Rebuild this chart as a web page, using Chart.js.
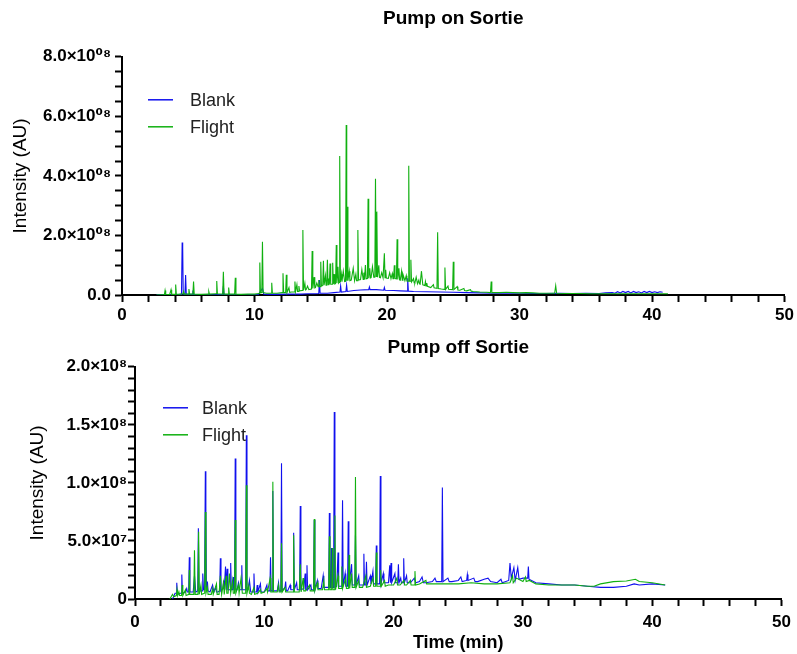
<!DOCTYPE html>
<html>
<head>
<meta charset="utf-8">
<script src="https://cdn.jsdelivr.net/npm/chart.js@4.4.1/dist/chart.umd.min.js"></script>
<style>
  body { margin: 0; background: #fff; }
  canvas { position: absolute; left: 0; }
  #pumpOn { top: 0; }
  #pumpOff { top: 326px; }
</style>
</head>
<body>
<canvas id="pumpOn" width="797" height="326"></canvas>
<canvas id="pumpOff" width="797" height="328"></canvas>
<script>
// time in minutes, intensity in units of 1e6 AU
const xTickValues = [0, 10, 20, 30, 40, 50];
const xTickLabels = ['0', '10', '20', '30', '40', '50'];
const onYTickValues = [0, 200, 400, 600, 800];
const onYTickLabels = ['0.0', '2.0×10⁰⁸', '4.0×10⁰⁸', '6.0×10⁰⁸', '8.0×10⁰⁸'];
const offYTickValues = [0, 50, 100, 150, 200];
const offYTickLabels = ['0', '5.0×10⁷', '1.0×10⁸', '1.5×10⁸', '2.0×10⁸'];
const seriesNames = ['Blank', 'Flight'];
const seriesColors = ['#1010ee', '#10b010'];

const pumpOnBlank = [
  [2.6,0],[3.5,1],[4.0,1],[4.4,2],[4.49,2],[4.54,176],[4.58,160],[4.62,3],[4.75,3],[4.8,67],[4.85,3],
  [5.3,2],[5.35,15],[5.4,2],[6.0,1],[7.0,1],[7.6,2],[7.65,30],[7.7,2],[8.5,1],[9.5,1],[10.3,2],[10.6,22],
  [10.7,3],[11.5,2],[12.5,3],[13.5,3],[14.0,4],[14.5,4],[14.85,5],[14.9,50],[14.95,6],[15.5,6],[16.0,8],
  [16.45,10],[16.5,30],[16.55,10],[16.9,12],[16.95,33],[17.0,12],[17.5,15],[18.0,17],[18.62,18],[18.67,27],
  [18.72,18],[19.2,18],[19.75,16],[19.8,25],[19.85,16],[20.5,15],[21.0,14],[21.51,13],[21.56,56],[21.61,13],
  [22.0,12],[23.0,11],[24.0,10],[25.0,9],[26.0,8],[27.0,7],[28.0,6],[29.0,6],[30.0,6],[31.0,5],[32.0,5],
  [33.0,6],[34.0,5],[35.0,6],[36.0,5],[36.5,7],[37.0,8],[37.2,6],[37.4,11],[37.6,7],[37.8,12],[38.0,8],
  [38.2,12],[38.4,7],[38.6,12],[38.8,8],[39.0,11],[39.2,7],[39.4,12],[39.6,8],[39.8,12],[40.0,8],[40.2,11],
  [40.4,8],[40.6,11],[40.8,9]
];
const pumpOnFlight = [
  [2.6,0],[3.0,1],[3.2,1],[3.25,15],[3.3,1],[3.6,2],[3.7,18],[3.75,2],[4.0,2],[4.05,35],[4.1,3],[4.3,2],
  [4.6,4],[4.65,12],[4.7,3],[5.0,3],[5.05,20],[5.1,3],[5.35,3],[5.4,45],[5.45,3],[6.0,2],[6.5,3],[6.55,12],
  [6.6,3],[7.1,4],[7.15,47],[7.2,4],[7.6,3],[7.65,78],[7.7,3],[8.0,3],[8.05,25],[8.1,3],[8.5,3],[8.55,58],
  [8.6,3],[9.0,2],[9.5,3],[10.0,3],[10.35,5],[10.4,109],[10.45,8],[10.55,8],[10.6,179],[10.65,8],[10.9,6],
  [11.25,6],[11.3,41],[11.35,6],[11.7,6],[12.1,8],[12.15,73],[12.2,8],[12.35,8],[12.4,68],[12.45,8],
  [12.6,25],[12.65,9],[12.8,10],[13.0,10],[13.05,45],[13.1,12],[13.2,35],[13.25,12],[13.3,12],[13.35,30],
  [13.4,14],[13.6,15],[13.65,218],[13.7,16],[13.8,40],[13.85,17],[13.9,18],[14.0,30],[14.1,18],[14.3,20],
  [14.35,148],[14.4,22],[14.5,60],[14.55,24],[14.6,25],[14.7,40],[14.8,28],[14.85,50],[14.9,28],[14.95,28],
  [15.0,112],[15.05,30],[15.15,32],[15.2,115],[15.25,33],[15.35,65],[15.4,33],[15.45,34],[15.5,118],
  [15.55,35],[15.6,55],[15.65,35],[15.7,106],[15.75,36],[15.85,36],[15.9,108],[15.95,37],[16.0,70],
  [16.05,37],[16.12,38],[16.17,168],[16.22,40],[16.3,95],[16.35,40],[16.38,42],[16.43,467],[16.48,44],
  [16.55,70],[16.6,45],[16.7,80],[16.8,45],[16.87,46],[16.92,571],[16.96,48],[17.0,296],[17.05,48],
  [17.15,80],[17.2,48],[17.3,50],[17.45,90],[17.55,48],[17.65,70],[17.7,48],[17.75,48],[17.8,218],
  [17.85,50],[18.0,52],[18.1,85],[18.2,52],[18.25,75],[18.3,52],[18.32,52],[18.37,101],[18.42,54],
  [18.52,55],[18.57,323],[18.62,56],[18.7,90],[18.75,57],[18.8,58],[18.9,95],[19.0,60],[19.08,60],
  [19.13,390],[19.18,62],[19.23,280],[19.28,60],[19.38,100],[19.43,59],[19.5,58],[19.6,75],[19.7,58],
  [19.75,58],[19.8,140],[19.85,58],[19.9,85],[19.95,57],[20.1,56],[20.2,75],[20.3,55],[20.4,72],[20.45,55],
  [20.5,55],[20.55,100],[20.6,55],[20.71,54],[20.76,187],[20.81,52],[20.9,90],[20.95,51],[21.0,50],
  [21.1,80],[21.15,50],[21.2,70],[21.35,48],[21.45,65],[21.5,47],[21.59,46],[21.64,434],[21.69,46],
  [21.75,46],[21.8,118],[21.85,44],[22.0,55],[22.05,41],[22.1,40],[22.2,60],[22.3,38],[22.4,50],[22.45,37],
  [22.5,36],[22.6,80],[22.7,34],[22.85,32],[22.9,45],[22.95,30],[23.0,40],[23.05,29],[23.3,25],[23.5,35],
  [23.55,24],[23.77,22],[23.82,211],[23.87,22],[24.1,20],[24.32,19],[24.37,92],[24.42,19],[24.6,30],
  [24.65,19],[24.95,18],[25.0,112],[25.05,18],[25.3,28],[25.35,17],[25.5,16],[25.8,22],[25.85,15],
  [26.0,14],[26.3,18],[26.35,13],[26.5,12],[27.0,10],[27.5,9],[27.81,8],[27.86,45],[27.91,8],[28.5,8],
  [29.0,9],[29.5,8],[30.0,7],[30.5,8],[31.0,7],[31.5,6],[32.0,6],[32.65,6],[32.73,31],[32.8,6],[33.5,5],
  [34.5,5],[35.5,4],[36.5,4],[37.5,4],[38.5,4],[39.5,4],[40.5,4],[41.2,4]
];
const pumpOffBlank = [
  [2.9,0],[3.1,5],[3.18,5],[3.23,14],[3.28,4],[3.5,5],[3.57,5],[3.62,21],[3.67,5],[3.9,6],[4.0,9],[4.05,6],
  [4.15,6],[4.2,36],[4.25,6],[4.5,6],[4.6,20],[4.7,6],[4.85,7],[4.9,61],[4.95,7],[5.2,7],[5.24,22],[5.3,8],
  [5.38,8],[5.44,110],[5.48,80],[5.52,8],[5.6,15],[5.65,7],[5.8,6],[6.0,12],[6.1,6],[6.25,10],[6.3,6],
  [6.4,6],[6.55,7],[6.6,35],[6.65,7],[6.8,9],[6.85,16],[6.9,8],[6.95,8],[7.0,28],[7.05,8],[7.12,26],
  [7.18,8],[7.35,8],[7.4,31],[7.45,8],[7.55,8],[7.6,19],[7.65,8],[7.7,8],[7.75,121],[7.8,8],[7.9,8],
  [8.0,14],[8.1,8],[8.2,8],[8.26,29],[8.3,8],[8.56,8],[8.61,141],[8.66,8],[8.75,8],[8.85,16],[8.95,6],
  [9.15,6],[9.2,22],[9.25,6],[9.4,6],[9.45,12],[9.5,6],[9.7,13],[9.75,6],[10.0,6],[10.2,12],[10.25,7],
  [10.43,7],[10.48,36],[10.53,7],[10.61,7],[10.66,93],[10.71,7],[11.0,7],[11.1,14],[11.15,7],[11.28,7],
  [11.33,117],[11.38,7],[11.6,10],[11.65,15],[11.7,7],[11.8,7],[12.0,12],[12.05,8],[12.22,8],[12.27,57],
  [12.32,8],[12.5,14],[12.55,8],[12.73,8],[12.78,80],[12.83,8],[13.05,9],[13.16,22],[13.2,8],[13.25,8],
  [13.3,29],[13.35,8],[13.6,12],[13.65,8],[13.81,8],[13.86,68],[13.91,8],[14.1,16],[14.15,9],[14.4,9],
  [14.55,20],[14.6,10],[14.7,10],[14.98,10],[15.03,74],[15.08,10],[15.15,10],[15.2,44],[15.25,10],
  [15.36,10],[15.41,161],[15.46,10],[15.6,11],[15.7,40],[15.75,11],[15.8,11],[16.0,11],[16.05,85],
  [16.1,11],[16.25,22],[16.3,11],[16.44,11],[16.49,67],[16.54,11],[16.75,30],[16.8,12],[17.0,12],
  [17.05,55],[17.1,12],[17.3,20],[17.35,12],[17.65,12],[17.7,39],[17.75,12],[17.85,12],[17.9,32],
  [17.95,12],[18.2,20],[18.25,13],[18.4,24],[18.45,13],[18.61,13],[18.66,46],[18.71,13],[18.92,13],
  [18.97,106],[19.02,13],[19.2,22],[19.25,14],[19.5,14],[19.6,14],[19.7,29],[19.75,14],[19.8,31],
  [19.85,14],[20.1,22],[20.15,14],[20.32,14],[20.37,30],[20.42,14],[20.55,18],[20.6,14],[20.73,14],
  [20.78,35],[20.83,14],[21.0,20],[21.05,14],[21.3,14],[21.6,18],[21.7,14],[22.0,15],[22.2,19],[22.3,14],
  [22.5,14],[23.0,15],[23.2,18],[23.3,15],[23.72,15],[23.77,96],[23.82,15],[24.2,18],[24.3,15],[24.5,15],
  [25.0,16],[25.2,19],[25.3,15],[25.65,16],[25.7,21],[25.75,16],[26.2,18],[26.3,15],[26.5,15],[27.0,17],
  [27.3,18],[27.5,15],[28.0,14],[28.3,17],[28.4,14],[28.9,16],[29.0,31],[29.1,18],[29.3,27],[29.4,16],
  [29.6,27],[29.7,17],[30.0,18],[30.37,18],[30.42,28],[30.47,17],[31.0,14],[32.0,13],[33.0,12],[34.0,12],
  [35.0,11],[36.0,10],[37.0,10],[38.0,11],[38.6,13],[39.0,12],[40.0,13],[41.0,12]
];
const pumpOffFlight = [
  [2.7,0],[2.9,4],[3.0,2],[3.2,3],[3.25,8],[3.3,3],[3.4,6],[3.45,3],[3.6,3],[3.65,12],[3.7,3],[3.9,8],
  [3.95,3],[4.17,4],[4.2,25],[4.23,4],[4.55,4],[4.6,42],[4.65,4],[4.87,4],[4.92,58],[4.97,4],[5.1,12],
  [5.15,4],[5.39,5],[5.44,75],[5.49,5],[5.6,10],[5.65,4],[5.9,4],[6.0,9],[6.05,4],[6.3,13],[6.35,4],
  [6.5,4],[6.6,20],[6.7,4],[6.85,14],[6.9,4],[7.05,20],[7.1,5],[7.2,5],[7.3,22],[7.4,5],[7.55,16],[7.6,5],
  [7.7,5],[7.75,68],[7.8,5],[8.0,12],[8.05,5],[8.1,5],[8.2,18],[8.3,5],[8.56,5],[8.61,98],[8.66,5],
  [8.8,12],[8.85,5],[9.0,4],[9.2,10],[9.25,4],[9.5,5],[9.7,8],[9.75,5],[10.0,6],[10.2,9],[10.25,6],
  [10.45,18],[10.5,6],[10.61,6],[10.66,101],[10.71,6],[11.0,6],[11.1,12],[11.15,6],[11.28,6],[11.33,48],
  [11.38,6],[11.6,10],[11.65,6],[11.8,6],[12.22,6],[12.27,55],[12.32,6],[12.7,6],[12.78,30],[12.85,6],
  [13.0,18],[13.05,7],[13.2,7],[13.5,12],[13.55,7],[13.81,7],[13.86,69],[13.91,7],[14.1,14],[14.15,8],
  [14.5,8],[14.6,16],[14.65,8],[14.98,8],[15.03,54],[15.08,8],[15.21,8],[15.26,44],[15.31,8],[15.41,8],
  [15.46,72],[15.51,8],[15.7,20],[15.75,9],[15.95,9],[16.0,28],[16.05,9],[16.3,18],[16.35,9],[16.5,9],
  [16.55,38],[16.6,9],[16.75,22],[16.8,10],[17.0,10],[17.05,105],[17.1,10],[17.3,16],[17.35,10],[17.6,10],
  [17.85,20],[17.9,10],[18.2,11],[18.4,18],[18.45,11],[18.61,11],[18.66,40],[18.71,11],[18.97,11],
  [19.0,25],[19.05,11],[19.3,16],[19.35,11],[19.6,12],[20.0,12],[20.25,18],[20.3,12],[20.5,12],[20.8,16],
  [20.85,12],[21.0,12],[21.3,16],[21.35,12],[21.6,12],[21.65,24],[21.7,12],[22.0,13],[22.5,16],[22.55,13],
  [23.0,13],[24.0,13],[25.0,13],[26.0,14],[27.0,13],[28.0,13],[29.0,14],[29.2,20],[29.25,14],[29.5,18],
  [30.0,15],[30.2,19],[30.25,15],[30.5,16],[31.0,13],[32.0,12],[33.0,12],[34.0,12],[35.0,11],[35.5,11],
  [36.0,13],[37.0,15],[38.0,15.5],[38.7,17],[39.0,15],[40.0,14],[41.0,12]
];

Chart.defaults.font.family = '"Liberation Sans", Arial, "DejaVu Sans", sans-serif';
Chart.defaults.color = '#000';

// legend drawn inside the plot, like the original figure
const insetLegend = {
  id: 'insetLegend',
  afterDatasetsDraw(chart, args, opts) {
    const { ctx, chartArea } = chart;
    ctx.save();
    ctx.font = '18px "Liberation Sans", Arial, sans-serif';
    ctx.textBaseline = 'middle';
    chart.data.datasets.forEach((ds, i) => {
      const x = chartArea.left + opts.left;
      const y = chartArea.top + opts.top + i * 27;
      ctx.strokeStyle = ds.borderColor;
      ctx.lineWidth = 1.5;
      ctx.beginPath();
      ctx.moveTo(x, y);
      ctx.lineTo(x + 25, y);
      ctx.stroke();
      ctx.fillStyle = '#222';
      ctx.fillText(ds.label, x + opts.textGap, y + 1);
    });
    ctx.restore();
  }
};

function toPoints(pairs) {
  return pairs.map(p => ({ x: p[0], y: p[1] }));
}

function pick(values, labels) {
  return v => {
    const i = values.indexOf(v);
    return i < 0 ? '' : labels[i];
  };
}

function makeChart(id, cfg) {
  return new Chart(document.getElementById(id), {
    type: 'line',
    data: {
      datasets: [
        { label: seriesNames[0], data: toPoints(cfg.blank), borderColor: seriesColors[0], order: 1 },
        { label: seriesNames[1], data: toPoints(cfg.flight), borderColor: seriesColors[1], order: 0 }
      ]
    },
    options: {
      responsive: false,
      animation: false,
      layout: { padding: { left: 0, right: cfg.padRight, top: 0, bottom: 0 } },
      elements: {
        point: { radius: 0 },
        line: { borderWidth: 1.1, tension: 0 }
      },
      plugins: {
        legend: { display: false },
        tooltip: { enabled: false },
        title: {
          display: true,
          text: cfg.title,
          fullSize: false,
          color: '#000',
          font: { size: 19, weight: 'bold' },
          padding: cfg.titlePad
        },
        insetLegend: cfg.legend
      },
      scales: {
        x: {
          type: 'linear',
          min: 0,
          max: 50,
          border: { color: '#000', width: 2 },
          grid: { drawOnChartArea: false, color: '#000', tickLength: 7, tickWidth: 2 },
          ticks: {
            stepSize: 2,
            autoSkip: false,
            maxRotation: 0,
            padding: cfg.xPad,
            font: { size: 17, weight: 'bold' },
            callback: pick(xTickValues, xTickLabels)
          },
          title: {
            display: cfg.xTitle,
            text: 'Time (min)',
            font: { size: 18, weight: 'bold' },
            padding: { top: 0, bottom: 0 }
          },
          afterFit: s => { s.height = cfg.xHeight; }
        },
        y: {
          min: 0,
          max: cfg.yMax,
          border: { color: '#000', width: 2 },
          grid: { drawOnChartArea: false, color: '#000', tickLength: 7, tickWidth: 2 },
          ticks: {
            stepSize: cfg.yStep,
            autoSkip: false,
            padding: cfg.yPad,
            font: { size: 17, weight: 'bold' },
            callback: pick(cfg.yValues, cfg.yLabels)
          },
          title: {
            display: true,
            text: 'Intensity (AU)',
            font: { size: 19 },
            padding: { top: cfg.yTitlePad, bottom: 0 }
          },
          afterFit: s => { s.width = cfg.yWidth; }
        }
      }
    },
    plugins: [insetLegend]
  });
}

makeChart('pumpOn', {
  title: 'Pump on Sortie',
  titlePad: { top: 7, bottom: 27 },
  blank: pumpOnBlank,
  flight: pumpOnFlight,
  yMax: 800,
  yStep: 50,
  yValues: onYTickValues,
  yLabels: onYTickLabels,
  yWidth: 122,
  yPad: 4,
  yTitlePad: 9,
  xHeight: 31,
  xPad: 3,
  xTitle: false,
  padRight: 11,
  legend: { left: 26, top: 43, textGap: 42 }
});

makeChart('pumpOff', {
  title: 'Pump off Sortie',
  titlePad: { top: 10, bottom: 8 },
  blank: pumpOffBlank,
  flight: pumpOffFlight,
  yMax: 200,
  yStep: 10,
  yValues: offYTickValues,
  yLabels: offYTickLabels,
  yWidth: 135,
  yPad: 1,
  yTitlePad: 26,
  xHeight: 55,
  xPad: 6,
  xTitle: true,
  padRight: 10,
  legend: { left: 28, top: 41, textGap: 39 }
});
</script>
</body>
</html>
